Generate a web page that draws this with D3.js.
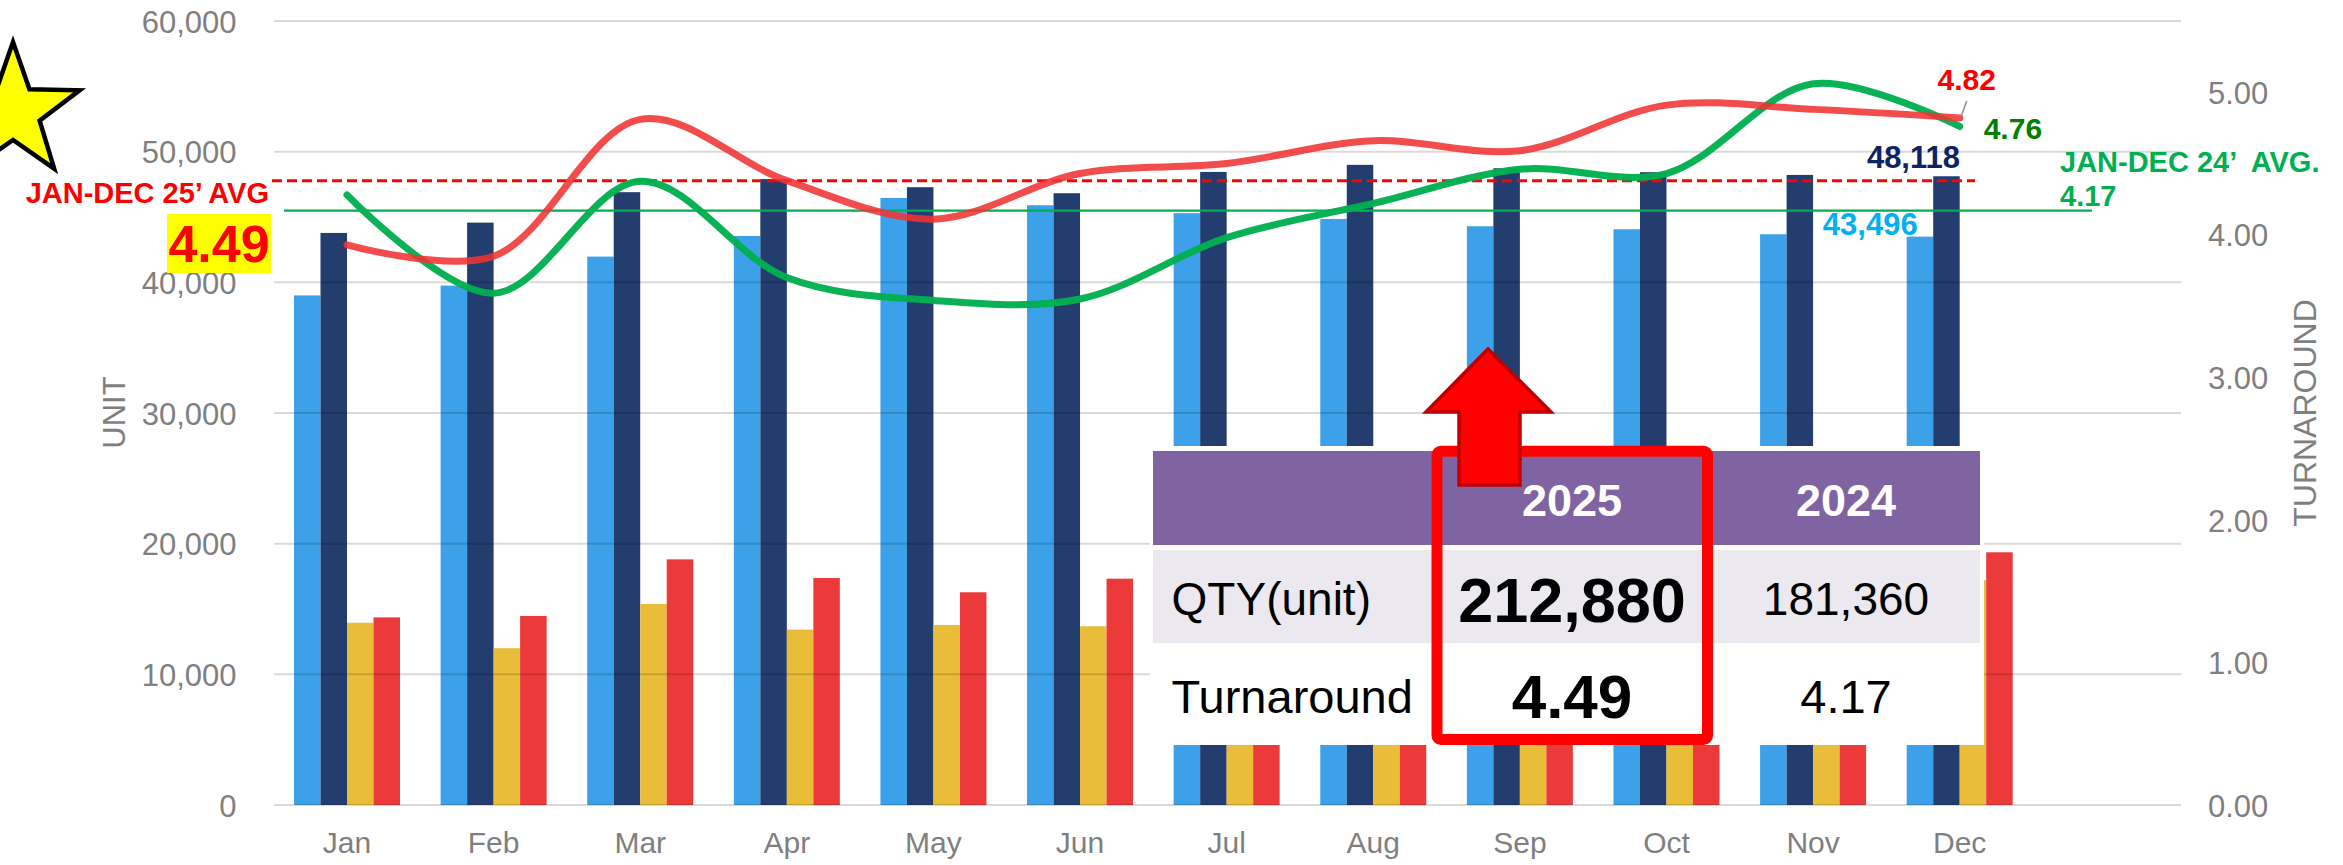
<!DOCTYPE html>
<html><head><meta charset="utf-8">
<script src="https://cdn.jsdelivr.net/npm/d3@7"></script>
<style>
html,body{margin:0;padding:0;background:#fff;}
svg{display:block;font-family:"Liberation Sans",Arial,Helvetica,sans-serif;}
</style>
</head><body>
<svg id="chart" width="2343" height="865"></svg>
<script>
// ---------------- DATA ----------------
const months = ["Jan","Feb","Mar","Apr","May","Jun","Jul","Aug","Sep","Oct","Nov","Dec"];
const barLightBlue = [39000, 39750, 41970, 43550, 46460, 45900, 45290, 44850, 44290, 44060, 43680, 43496];
const barNavy      = [43780, 44570, 46900, 47900, 47280, 46820, 48450, 48990, 48730, 48430, 48220, 48118];
const qty2024      = [13950, 12000, 15380, 13420, 13780, 13680, 16100, 16600, 16300, 16700, 16400, 17200];
const qty2025      = [14360, 14470, 18800, 17370, 16280, 17320, 18700, 19300, 18900, 19500, 18600, 19340];
const turn2025     = [3.93, 3.85, 4.81, 4.38, 4.11, 4.43, 4.50, 4.66, 4.59, 4.91, 4.88, 4.82];
const turn2024     = [4.28, 3.59, 4.375, 3.70, 3.54, 3.55, 3.98, 4.22, 4.46, 4.43, 5.06, 4.76];
const leftTicks  = [0, 10000, 20000, 30000, 40000, 50000, 60000];
const rightTicks = [0, 1, 2, 3, 4, 5];
const avg2025 = 4.49;          // label value
const avg2025LinePos = 4.38;   // where the dashed line is drawn in the picture
const avg2024 = 4.17;
const tableHeader = ["", "2025", "2024"];
const tableQty = ["QTY(unit)", "212,880", "181,360"];
const tableTurn = ["Turnaround", "4.49", "4.17"];

// ---------------- SETUP ----------------
const svg = d3.select("#chart");
svg.append("rect").attr("width",2343).attr("height",865).attr("fill","#fff");

const plotL = 274, plotR = 2181, plotT = 21, plotB = 805;
const x = d3.scaleBand().domain(months).range([273.7, 2033]).paddingInner(0.277).paddingOuter(0.1385);
const keys = ["lb","nv","yl","rd"];
const x1 = d3.scaleBand().domain(keys).range([0, x.bandwidth()]).padding(0);
const y = d3.scaleLinear().domain([0, 60000]).range([plotB, plotT]);
const y2 = d3.scaleLinear().domain([0, 5.5]).range([plotB, plotT]);
const colors = {lb:"#3ca1e8", nv:"#243d6f", yl:"#e9bd39", rd:"#ec3a3b"};
const seriesVals = {lb:barLightBlue, nv:barNavy, yl:qty2024, rd:qty2025};
const gray = "#7f7f7f";

// ---------------- BARS ----------------
const groups = svg.append("g").selectAll("g").data(months).join("g")
  .attr("transform", d => `translate(${x(d)},0)`);
groups.selectAll("rect").data((m,i) => keys.map(k => ({k, v: seriesVals[k][i]}))).join("rect")
  .attr("x", d => x1(d.k)).attr("width", x1.bandwidth())
  .attr("y", d => y(d.v)).attr("height", d => y(0) - y(d.v))
  .attr("fill", d => colors[d.k]);

// ---------------- GRID ----------------
svg.append("g").selectAll("line").data(leftTicks).join("line")
  .attr("x1", plotL).attr("x2", plotR)
  .attr("y1", d => y(d)).attr("y2", d => y(d))
  .attr("stroke", "rgba(0,0,0,0.15)").attr("stroke-width", 2);

// ---------------- AXES ----------------
const axL = svg.append("g").attr("transform", `translate(${plotL},0)`)
  .call(d3.axisLeft(y).tickValues(leftTicks).tickFormat(d3.format(",")).tickSize(0).tickPadding(37.5));
const axR = svg.append("g").attr("transform", `translate(${plotR},0)`)
  .call(d3.axisRight(y2).tickValues(rightTicks).tickFormat(d3.format(".2f")).tickSize(0).tickPadding(27));
const axB = svg.append("g").attr("transform", `translate(0,${plotB})`)
  .call(d3.axisBottom(x).tickSize(0).tickPadding(27));
[axL, axR, axB].forEach(a => {
  a.select(".domain").remove();
  a.selectAll("text").attr("fill", gray).attr("font-family", "Liberation Sans, Arial, sans-serif");
});
axL.selectAll("text").attr("font-size", 31).attr("dy", "0.36em");
axR.selectAll("text").attr("font-size", 31).attr("dy", "0.36em");
axB.selectAll("text").attr("font-size", 30);

// axis titles
svg.append("text").attr("transform", `translate(${114 + 0.36*31},412.5) rotate(-90)`)
  .attr("text-anchor","middle").attr("font-size",31).attr("fill",gray).text("UNIT");
svg.append("text").attr("transform", `translate(${2304 + 0.36*32},413) rotate(-90)`)
  .attr("text-anchor","middle").attr("font-size",32).attr("fill",gray).text("TURNAROUND");

// ---------------- AVERAGE LINES ----------------
svg.append("line").attr("x1", 272).attr("x2", 1975)
  .attr("y1", y2(avg2025LinePos)).attr("y2", y2(avg2025LinePos))
  .attr("stroke", "#ff0000").attr("stroke-width", 3).attr("stroke-dasharray", "10,5");
svg.append("line").attr("x1", 284).attr("x2", 2092)
  .attr("y1", y2(avg2024)).attr("y2", y2(avg2024))
  .attr("stroke", "#00b050").attr("stroke-width", 2.2);

// ---------------- CURVES ----------------
const cx = m => x(m) + x.bandwidth()/2;
const line = d3.line().curve(d3.curveCatmullRom.alpha(0.5));
svg.append("path").attr("d", line(months.map((m,i) => [cx(m), y2(turn2024[i])])))
  .attr("fill","none").attr("stroke","#00b050").attr("stroke-width",7)
  .attr("stroke-linecap","round").attr("opacity",0.97);
svg.append("path").attr("d", line(months.map((m,i) => [cx(m), y2(turn2025[i])])))
  .attr("fill","none").attr("stroke","#f03333").attr("stroke-width",7)
  .attr("stroke-linecap","round").attr("opacity",0.88);

// ---------------- DATA LABELS ----------------
const last = months.length - 1, dec = months[last];
const bold = (sel) => sel.attr("font-weight","bold");
// leader line
svg.append("line").attr("x1", cx(dec)+7).attr("y1", y2(turn2025[last]) - 17)
  .attr("x2", cx(dec)+2).attr("y2", y2(turn2025[last]) - 3)
  .attr("stroke", "#8c8c8c").attr("stroke-width", 1.5);
bold(svg.append("text").attr("x", cx(dec)+7).attr("y", y2(turn2025[last]) - 39 + 0.36*30)
  .attr("text-anchor","middle").attr("font-size",30).attr("fill","#ff0000")
  .text(d3.format(".2f")(turn2025[last])));
bold(svg.append("text").attr("x", cx(dec)+24).attr("y", y2(turn2024[last]) + 1.5 + 0.36*30)
  .attr("font-size",30).attr("fill","#008000")
  .text(d3.format(".2f")(turn2024[last])));
bold(svg.append("text").attr("x", x(dec)+x1("nv")+x1.bandwidth()/2 - 33).attr("y", y(barNavy[last]) - 19 + 0.36*31)
  .attr("text-anchor","middle").attr("font-size",31).attr("fill","#0d2463")
  .text(d3.format(",")(barNavy[last])));
bold(svg.append("text").attr("x", x(dec)+x1("lb") + 11).attr("y", y(barLightBlue[last]) - 12.7 + 0.36*31)
  .attr("text-anchor","end").attr("font-size",31).attr("fill","#00b0f0")
  .text(d3.format(",")(barLightBlue[last])));

// 24' avg label (right)
bold(svg.append("text").attr("x", 2060).attr("y", 161.7 + 0.36*29)
  .attr("font-size",29).attr("fill","#00b050").style("white-space","pre")
  .text("JAN-DEC 24’  AVG."));
bold(svg.append("text").attr("x", 2060).attr("y", 196 + 0.36*29)
  .attr("font-size",29).attr("fill","#00b050").text(d3.format(".2f")(avg2024)));

// 25' avg label (left)
bold(svg.append("text").attr("x", 269).attr("y", 192.7 + 0.36*29)
  .attr("text-anchor","end").attr("font-size",29).attr("fill","#ff0000")
  .text("JAN-DEC 25’ AVG"));
svg.append("rect").attr("x",167).attr("y",214).attr("width",104).attr("height",59).attr("fill","#ffff00");
bold(svg.append("text").attr("x", 219).attr("y", 243 + 0.36*52)
  .attr("text-anchor","middle").attr("font-size",52).attr("fill","#ff0000")
  .text(d3.format(".2f")(avg2025)));

// star
const starC = [13, 112], R = 70, r = 28;
const starPts = d3.range(10).map(i => {
  const a = (-90 + i*36) * Math.PI/180, rad = i % 2 ? r : R;
  return [starC[0] + rad*Math.cos(a), starC[1] + rad*Math.sin(a)];
});
svg.append("polygon").attr("points", starPts.map(p => p.join(",")).join(" "))
  .attr("fill","#ffff00").attr("stroke","#000").attr("stroke-width",4.5).attr("stroke-linejoin","miter");

// ---------------- TABLE ----------------
const tb = svg.append("g");
tb.append("rect").attr("x",1150).attr("y",446).attr("width",834).attr("height",299).attr("fill","#fff");
tb.append("rect").attr("x",1153).attr("y",451).attr("width",827).attr("height",94).attr("fill","#8064a2");
tb.append("rect").attr("x",1153).attr("y",550).attr("width",827).attr("height",93).attr("fill","#ebe9ef");
const colX = [1171.6, 1572, 1846];
tableHeader.forEach((t,i) => {
  if (!t) return;
  tb.append("text").attr("x", colX[i]).attr("y", 500 + 0.36*45).attr("text-anchor","middle")
    .attr("font-size",45).attr("font-weight","bold").attr("fill","#fff").text(t);
});
tb.append("text").attr("x", colX[0]).attr("y", 614.5).attr("font-size",46).attr("fill","#000").text(tableQty[0]);
tb.append("text").attr("x", colX[1]).attr("y", 621.5).attr("text-anchor","middle").attr("font-size",63)
  .attr("font-weight","bold").attr("fill","#000").text(tableQty[1]);
tb.append("text").attr("x", colX[2]).attr("y", 614.5).attr("text-anchor","middle").attr("font-size",46)
  .attr("fill","#000").text(tableQty[2]);
tb.append("text").attr("x", colX[0]).attr("y", 712.5).attr("font-size",47).attr("fill","#000").text(tableTurn[0]);
tb.append("text").attr("x", colX[1]).attr("y", 718).attr("text-anchor","middle").attr("font-size",62)
  .attr("font-weight","bold").attr("fill","#000").text(tableTurn[1]);
tb.append("text").attr("x", colX[2]).attr("y", 712.5).attr("text-anchor","middle").attr("font-size",47)
  .attr("fill","#000").text(tableTurn[2]);

// red highlight box
svg.append("rect").attr("x",1437).attr("y",451.2).attr("width",270.5).attr("height",288.3)
  .attr("rx",4).attr("fill","none").attr("stroke","#ff0000").attr("stroke-width",11);

// red arrow
const arrow = [[1488,349],[1551,412],[1520,412],[1520,485],[1459,485],[1459,412],[1426,412]];
svg.append("polygon").attr("points", arrow.map(p => p.join(",")).join(" "))
  .attr("fill","#ff0000").attr("stroke","#c00000").attr("stroke-width",3.5).attr("stroke-linejoin","miter");
</script>
</body></html>
